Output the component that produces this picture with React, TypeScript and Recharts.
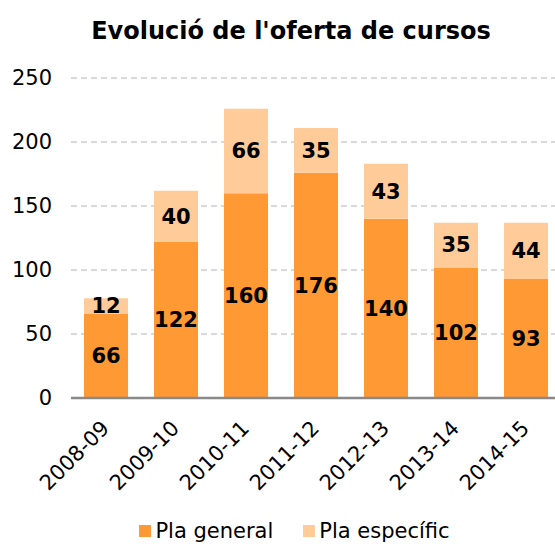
import { Bar, BarChart, CartesianGrid, LabelList, Legend, XAxis, YAxis } from "recharts";

const YEARS = ["2008-09", "2009-10", "2010-11", "2011-12", "2012-13", "2013-14", "2014-15"];
const GENERAL = [66, 122, 160, 176, 140, 102, 93];
const ESPECIFIC = [12, 40, 66, 35, 43, 35, 44];
const Y_TICKS = [0, 50, 100, 150, 200, 250];
const LEGEND_ORDER = ["Pla general", "Pla específic"];

const data = YEARS.map((year, i) => ({ year, general: GENERAL[i], especific: ESPECIFIC[i] }));

const FONT = "'DejaVu Sans', Verdana, sans-serif";

function LegendContent({ payload }: any) {
  const items = [...(payload || [])].sort(
    (a: any, b: any) => LEGEND_ORDER.indexOf(a.value) - LEGEND_ORDER.indexOf(b.value)
  );
  return (
    <div style={{ display: "flex", justifyContent: "center", alignItems: "center", height: 26, paddingLeft: 28 }}>
      {items.map((p: any, i: number) => (
        <div key={p.value} style={{ display: "flex", alignItems: "center", marginLeft: i ? 30 : 0 }}>
          <span style={{ width: 12, height: 12, background: p.color, marginRight: 4, display: "inline-block" }} />
          <span style={{ fontSize: 21, lineHeight: "26px", color: "#000" }}>{p.value}</span>
        </div>
      ))}
    </div>
  );
}

export default function App() {
  return (
    <div style={{ position: "absolute", left: 0, top: 0, width: 555, height: 544, overflow: "hidden", fontFamily: FONT }}>
      <div style={{ position: "absolute", left: 0, top: 16, width: 582, textAlign: "center", fontSize: 24, fontWeight: "bold", lineHeight: "30px" }}>
        Evolució de l'oferta de cursos
      </div>
      <BarChart
        width={575}
        height={544}
        data={data}
        margin={{ top: 78, right: 14, left: 0, bottom: 0 }}
        style={{ fontFamily: FONT }}
      >
        <CartesianGrid vertical={false} stroke="#D9D9D9" strokeWidth={2} strokeDasharray="6 4" />
        <XAxis
          dataKey="year"
          height={120}
          interval={0}
          angle={-45}
          textAnchor="end"
          tickLine={false}
          tickSize={0}
          tickMargin={21}
          axisLine={{ stroke: "#898989", strokeWidth: 2.5 }}
          tick={{ fill: "#000", fontSize: 21, dx: -6 }}
        />
        <YAxis
          domain={[0, 250]}
          ticks={Y_TICKS}
          width={71}
          axisLine={false}
          tickLine={false}
          tickSize={0}
          tickMargin={19}
          tick={{ fill: "#000", fontSize: 21 }}
        />
        <Legend content={<LegendContent />} verticalAlign="bottom" wrapperStyle={{ bottom: 0 }} />
        <Bar dataKey="general" name="Pla general" stackId="a" fill="#FF9933" barSize={44} isAnimationActive={false}>
          <LabelList dataKey="general" position="center" style={{ fill: "#000", fontSize: 21, fontWeight: "bold" }} />
        </Bar>
        <Bar dataKey="especific" name="Pla específic" stackId="a" fill="#FFCC99" barSize={44} isAnimationActive={false}>
          <LabelList dataKey="especific" position="center" style={{ fill: "#000", fontSize: 21, fontWeight: "bold" }} />
        </Bar>
      </BarChart>
    </div>
  );
}
